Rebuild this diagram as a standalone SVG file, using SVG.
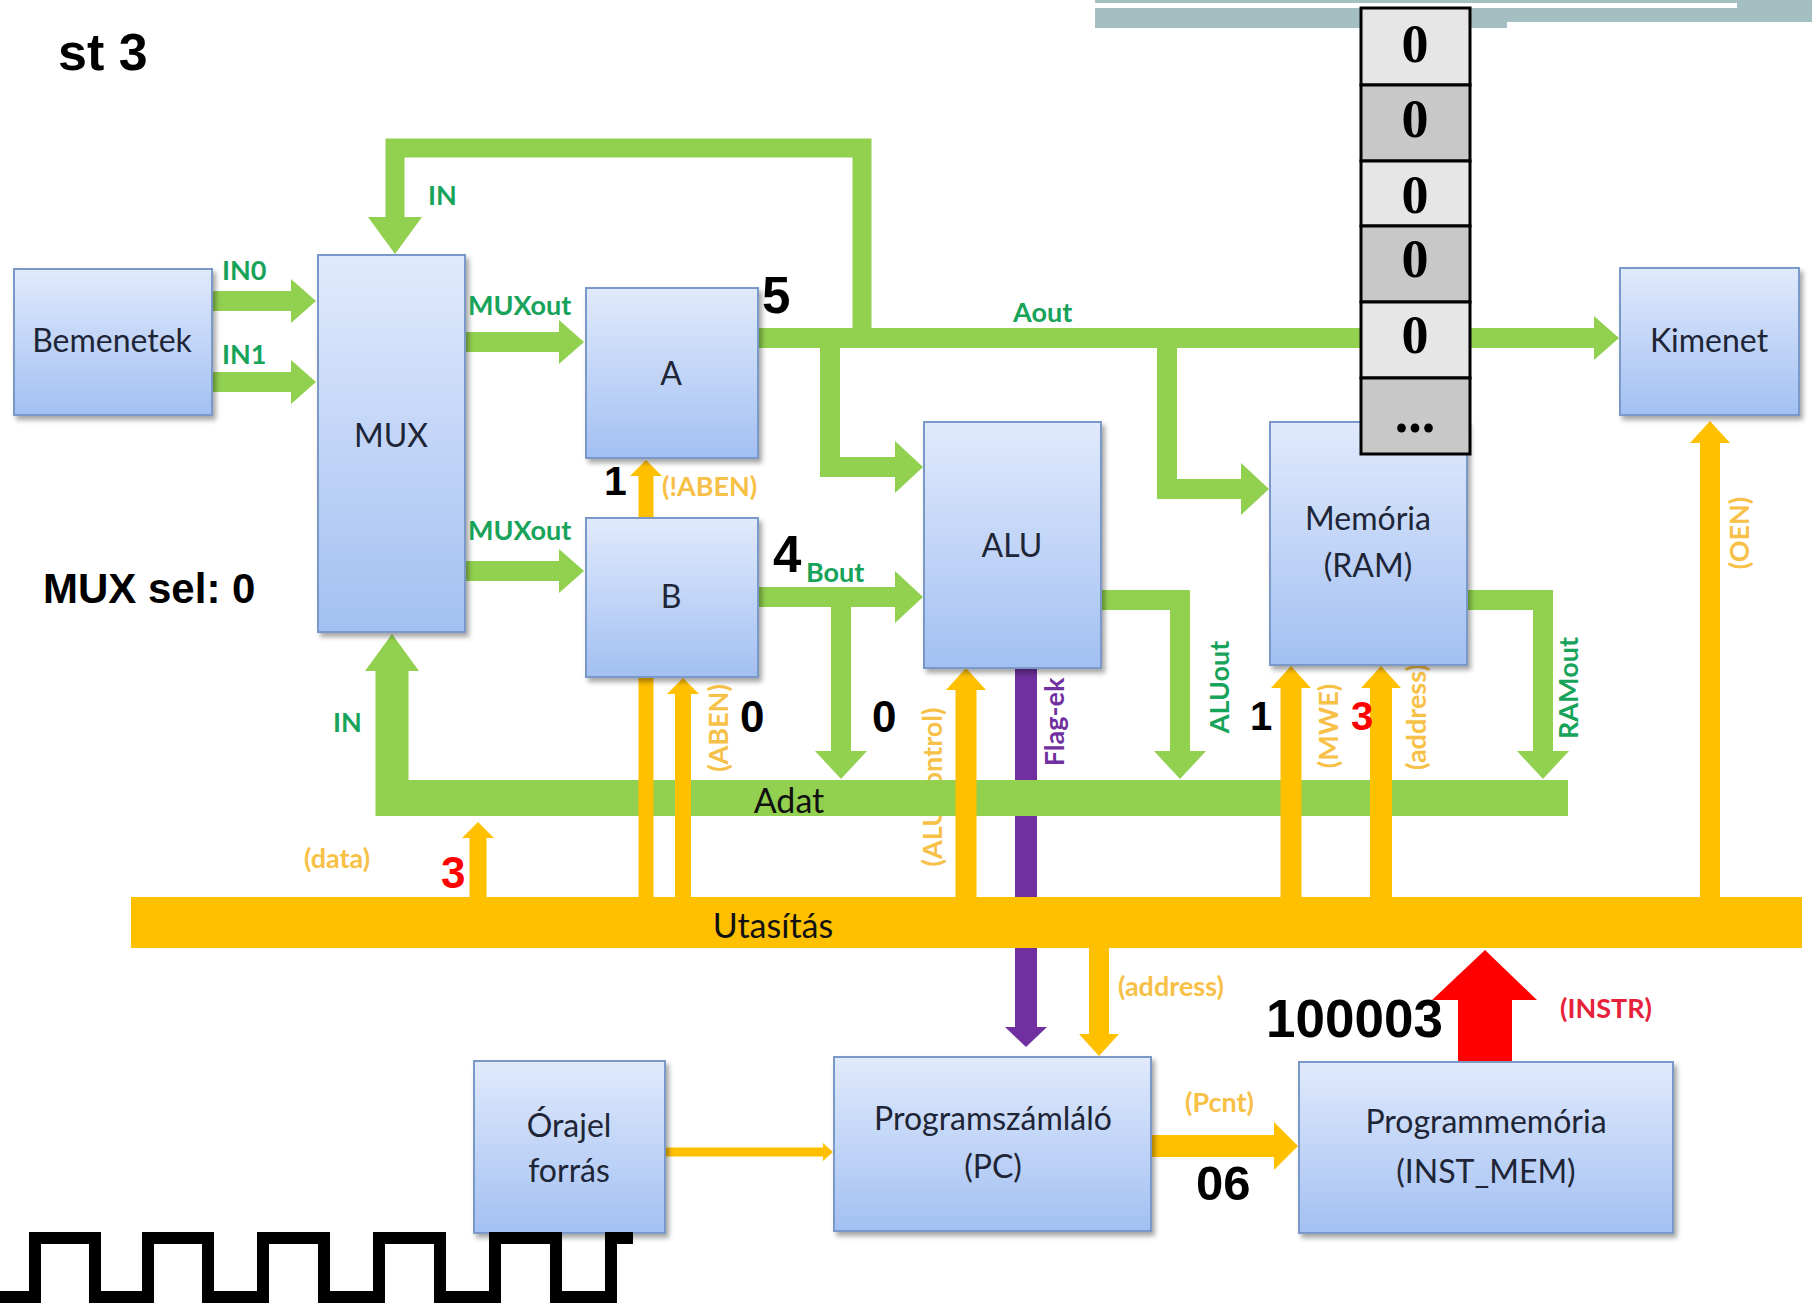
<svg xmlns="http://www.w3.org/2000/svg" width="1812" height="1309" viewBox="0 0 1812 1309">
<defs>
<linearGradient id="boxg" x1="0" y1="0" x2="0" y2="1">
<stop offset="0" stop-color="#e0eafc"/>
<stop offset="1" stop-color="#a3c0f2"/>
</linearGradient>
<filter id="sh" x="-10%" y="-10%" width="125%" height="125%">
<feDropShadow dx="3" dy="4" stdDeviation="2.5" flood-color="#000" flood-opacity="0.35"/>
</filter>
<marker id="gH" markerUnits="userSpaceOnUse" orient="auto" refX="1" refY="0" markerWidth="60" markerHeight="60" style="overflow:visible"><path d="M0,-22 L25,0 L0,22 Z" fill="#92d050"/></marker>
<marker id="gM" markerUnits="userSpaceOnUse" orient="auto" refX="1" refY="0" markerWidth="60" markerHeight="60" style="overflow:visible"><path d="M0,-26 L28,0 L0,26 Z" fill="#92d050"/></marker>
<marker id="gL" markerUnits="userSpaceOnUse" orient="auto" refX="1" refY="0" markerWidth="60" markerHeight="60" style="overflow:visible"><path d="M0,-27 L37,0 L0,27 Z" fill="#92d050"/></marker>
<marker id="yS" markerUnits="userSpaceOnUse" orient="auto" refX="1" refY="0" markerWidth="60" markerHeight="60" style="overflow:visible"><path d="M0,-16 L16,0 L0,16 Z" fill="#ffc000"/></marker>
<marker id="yM" markerUnits="userSpaceOnUse" orient="auto" refX="1" refY="0" markerWidth="60" markerHeight="60" style="overflow:visible"><path d="M0,-20 L22,0 L0,20 Z" fill="#ffc000"/></marker>
<marker id="yP" markerUnits="userSpaceOnUse" orient="auto" refX="1" refY="0" markerWidth="60" markerHeight="60" style="overflow:visible"><path d="M0,-24 L24,0 L0,24 Z" fill="#ffc000"/></marker>
<marker id="yT" markerUnits="userSpaceOnUse" orient="auto" refX="1" refY="0" markerWidth="60" markerHeight="60" style="overflow:visible"><path d="M0,-9 L10,0 L0,9 Z" fill="#ffc000"/></marker>
<marker id="pM" markerUnits="userSpaceOnUse" orient="auto" refX="1" refY="0" markerWidth="60" markerHeight="60" style="overflow:visible"><path d="M0,-21 L20,0 L0,21 Z" fill="#7030a0"/></marker>
<style>
.box{fill:url(#boxg);stroke:#7a98c8;stroke-width:2;filter:url(#sh)}
.bt{font-family:Lato,"Noto Sans",sans-serif;font-size:32px;fill:#1e2536;text-anchor:middle}
.g{fill:none;stroke:#92d050;stroke-width:20;stroke-linejoin:miter}
.y{fill:none;stroke:#ffc000;stroke-linejoin:miter}
.gl{font-family:Lato,"Noto Sans",sans-serif;font-weight:bold;font-size:27px;fill:#18a35a}
.yl{font-family:Lato,"Noto Sans",sans-serif;font-weight:bold;font-size:27px;fill:#f7c046}
.num{font-family:"Liberation Sans",Arial,sans-serif;font-weight:bold;fill:#000}
.red{fill:#ff0000}
.mc{stroke:#000;stroke-width:3}
.mt{font-family:"Liberation Serif","Times New Roman",serif;font-weight:bold;font-size:54px;fill:#000;text-anchor:middle}
.bus{font-family:Lato,"Noto Sans",sans-serif;font-size:34px;fill:#111;text-anchor:middle}
</style>
</defs>
<rect width="1812" height="1309" fill="#fff"/>
<g id="topbar">
<rect x="1095" y="0" width="717" height="22" fill="#a3bfc2"/>
<rect x="1095" y="22" width="412" height="6" fill="#a3bfc2"/>
<rect x="1095" y="3" width="642" height="5" fill="#fff"/>
</g>
<g id="connectors">
<path class="g" d="M212,301 H292" marker-end="url(#gH)"/>
<path class="g" d="M212,382 H292" marker-end="url(#gH)"/>
<path class="g" d="M465,342 H560" marker-end="url(#gH)"/>
<path class="g" d="M465,571 H560" marker-end="url(#gH)"/>
<path class="g" d="M757,338 H1595" marker-end="url(#gH)"/>
<path class="g" style="stroke-width:19" d="M862,338 V148 H395 V218" marker-end="url(#gL)"/>
<path class="g" d="M830,338 V467 H896" marker-end="url(#gM)"/>
<path class="g" d="M758,597 H896" marker-end="url(#gM)"/>
<path class="g" d="M841,597 V752" marker-end="url(#gM)"/>
<path class="g" d="M1101,600 H1180 V752" marker-end="url(#gM)"/>
<path class="g" d="M1167,338 V489 H1242" marker-end="url(#gM)"/>
<path class="g" d="M1467,600 H1543 V752" marker-end="url(#gM)"/>
<path d="M1026,668 V1028" fill="none" stroke="#7030a0" stroke-width="22" marker-end="url(#pM)"/>
<text class="yl" transform="translate(933,787) rotate(-90)" text-anchor="middle" dy=".35em">(ALU control)</text>
<path class="g" style="stroke-width:33" d="M392,816 V670" marker-end="url(#gL)"/>
<rect id="adat" x="376" y="780" width="1192" height="36" fill="#92d050"/>
<path class="y" style="stroke-width:17" d="M478,897 V837" marker-end="url(#yS)"/>
<path class="y" style="stroke-width:15" d="M646,897 V475" marker-end="url(#yS)"/>
<path class="y" style="stroke-width:16" d="M683,897 V693" marker-end="url(#yS)"/>
<path class="y" style="stroke-width:21" d="M966,897 V689" marker-end="url(#yM)"/>
<path class="y" style="stroke-width:21" d="M1291,897 V687" marker-end="url(#yM)"/>
<path class="y" style="stroke-width:22" d="M1381,897 V687" marker-end="url(#yM)"/>
<path class="y" style="stroke-width:20" d="M1710,897 V442" marker-end="url(#yM)"/>
<path class="y" style="stroke-width:20" d="M1099,948 V1035" marker-end="url(#yM)"/>
<path class="y" style="stroke-width:22" d="M1151,1146 H1275" marker-end="url(#yP)"/>
<path class="y" style="stroke-width:9" d="M665,1152 H824" marker-end="url(#yT)"/>
<rect id="utasitas" x="131" y="897" width="1671" height="51" fill="#ffc000"/>
<rect class="red" x="1458" y="998" width="54" height="64"/>
<polygon class="red" points="1432,1000 1485,950 1537,1000"/>
<text class="yl" transform="translate(1417,770) rotate(-90)" dy=".35em">(address)</text>
</g>
<g id="bemenetek"><rect class="box" x="14" y="269" width="198" height="146"/><text class="bt" x="112" y="352">Bemenetek</text></g>
<g id="mux"><rect class="box" x="318" y="255" width="147" height="377"/><text class="bt" x="391" y="447">MUX</text></g>
<g id="regA"><rect class="box" x="586" y="288" width="172" height="170"/><text class="bt" x="671" y="385">A</text></g>
<g id="regB"><rect class="box" x="586" y="518" width="172" height="159"/><text class="bt" x="671" y="608">B</text></g>
<g id="alu"><rect class="box" x="924" y="422" width="177" height="246"/><text class="bt" x="1012" y="557">ALU</text></g>
<g id="ram"><rect class="box" x="1270" y="422" width="197" height="243"/><text class="bt" x="1368" y="530">Memória</text><text class="bt" x="1368" y="577">(RAM)</text></g>
<g id="kimenet"><rect class="box" x="1620" y="268" width="179" height="147"/><text class="bt" x="1709" y="352">Kimenet</text></g>
<g id="orajel"><rect class="box" x="474" y="1061" width="191" height="172"/><text class="bt" x="569" y="1137">Órajel</text><text class="bt" x="569" y="1182">forrás</text></g>
<g id="pc"><rect class="box" x="834" y="1057" width="317" height="174"/><text class="bt" x="993" y="1130">Programszámláló</text><text class="bt" x="993" y="1178">(PC)</text></g>
<g id="instmem"><rect class="box" x="1299" y="1062" width="374" height="171"/><text class="bt" x="1486" y="1133">Programmemória</text><text class="bt" x="1486" y="1183">(INST_MEM)</text></g>
<g id="labels">
<text class="bus" x="789" y="813">Adat</text>
<text class="bus" x="773" y="938">Utasítás</text>
<text class="gl" x="222" y="280">IN0</text>
<text class="gl" x="222" y="364">IN1</text>
<text class="gl" x="428" y="205">IN</text>
<text class="gl" x="468" y="315">MUXout</text>
<text class="gl" x="468" y="540">MUXout</text>
<text class="gl" x="1013" y="322">Aout</text>
<text class="gl" x="806" y="582">Bout</text>
<text class="gl" x="333" y="732">IN</text>
<text class="gl" transform="translate(1220,687) rotate(-90)" text-anchor="middle" dy=".35em">ALUout</text>
<text class="gl" transform="translate(1569,688) rotate(-90)" text-anchor="middle" dy=".35em">RAMout</text>
<text class="yl" x="662" y="496">(!ABEN)</text>
<text class="yl" x="304" y="868">(data)</text>
<text class="yl" x="1118" y="996">(address)</text>
<text class="yl" x="1185" y="1112">(Pcnt)</text>
<text class="yl" transform="translate(719,728) rotate(-90)" text-anchor="middle" dy=".35em">(ABEN)</text>
<text class="yl" transform="translate(1329,726) rotate(-90)" text-anchor="middle" dy=".35em">(MWE)</text>
<text class="yl" transform="translate(1740,533) rotate(-90)" text-anchor="middle" dy=".35em">(OEN)</text>
<text class="gl" style="fill:#7030a0" transform="translate(1055,722) rotate(-90)" text-anchor="middle" dy=".35em">Flag-ek</text>
<text class="gl" style="fill:#e8213a" x="1560" y="1018">(INSTR)</text>
</g>
<g id="memcol">
<rect class="mc" x="1361" y="8" width="109" height="77" fill="#e6e6e6"/>
<rect class="mc" x="1361" y="85" width="109" height="76" fill="#c8c8c8"/>
<rect class="mc" x="1361" y="161" width="109" height="65" fill="#e6e6e6"/>
<rect class="mc" x="1361" y="226" width="109" height="76" fill="#c8c8c8"/>
<rect class="mc" x="1361" y="302" width="109" height="76" fill="#e6e6e6"/>
<rect class="mc" x="1361" y="378" width="109" height="76" fill="#c8c8c8"/>
<text class="mt" x="1415" y="62">0</text>
<text class="mt" x="1415" y="137">0</text>
<text class="mt" x="1415" y="213">0</text>
<text class="mt" x="1415" y="277">0</text>
<text class="mt" x="1415" y="353">0</text>
<text class="mt" x="1415" y="432">...</text>
</g>
<g id="values">
<text class="num" x="58" y="70" font-size="52">st 3</text>
<text class="num" x="43" y="603" font-size="42">MUX sel: 0</text>
<text class="num" x="762" y="313" font-size="51">5</text>
<text class="num" x="773" y="572" font-size="51">4</text>
<text class="num" x="604" y="495" font-size="41">1</text>
<text class="num" x="740" y="732" font-size="44">0</text>
<text class="num" x="872" y="732" font-size="44">0</text>
<text class="num" x="1250" y="730" font-size="40">1</text>
<text class="num red" x="1351" y="730" font-size="40">3</text>
<text class="num red" x="441" y="888" font-size="44">3</text>
<text class="num" x="1266" y="1037" font-size="53">100003</text>
<text class="num" x="1196" y="1200" font-size="49">06</text>
</g>
<g id="clock">
<polyline points="0,1297 35,1297 35,1238 95,1238 95,1297 148,1297 148,1238 208,1238 208,1297 263,1297 263,1238 324,1238 324,1297 379,1297 379,1238 440,1238 440,1297 495,1297 495,1238 556,1238 556,1297 611,1297 611,1238 633,1238" fill="none" stroke="#000" stroke-width="12" stroke-linejoin="miter"/>
</g>
</svg>
